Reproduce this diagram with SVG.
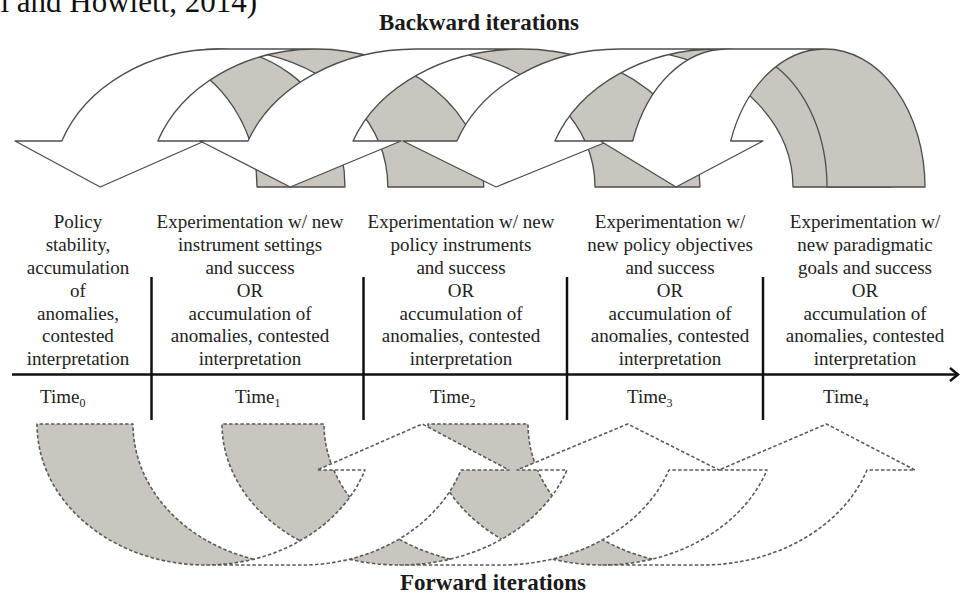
<svg xmlns="http://www.w3.org/2000/svg" width="961" height="594" viewBox="0 0 961 594">
  <defs>
    <style>
      .txt { font-family: "Liberation Serif", "Times New Roman", serif; font-size: 19px; fill: #222; text-anchor: middle; }
      .head { font-family: "Liberation Serif", "Times New Roman", serif; font-size: 23px; font-weight: bold; fill: #1a1a1a; text-anchor: middle; }
      .cite { font-family: "Liberation Serif", "Times New Roman", serif; font-size: 31px; fill: #111; text-anchor: end; }
      .sub { font-size: 12px; }
      .front { fill: #ffffff; stroke: none; }
      .back { fill: #c9c6c0; stroke: none; }
      .edge { fill: none; stroke: #4d4d4d; stroke-width: 1.3; stroke-linejoin: round; }
      .fwd .edge { stroke: #5a5a5a; stroke-width: 1.6; stroke-dasharray: 3.5 2.2; }
      .axis { stroke: #111; stroke-width: 2.5; fill: none; }
    </style>
  </defs>

  <rect width="961" height="594" fill="#ffffff"/>

  <!-- citation line running off the top edge of the page crop -->
  <text class="cite" x="257" y="12">l and Howlett, 2014)</text>

  <text class="head" x="479" y="30">Backward iterations</text>

  <g id="connectors">
    <!-- backward iterations: curved down arrows, tail on the right, head on the left -->
    <g id="backward">
      <g id="back-t1">
        <path class="back" d="M173,57.41 A128,138 0 0 1 257,187 L345,187 A128,138 0 0 0 173,57.41 Z"/>
        <path class="edge" d="M173,57.41 A128,138 0 0 1 257,187 L345,187 A128,138 0 0 0 173,57.41 Z"/>
      </g>
      <g id="back-t2-t0">
        <path class="front" d="M100.2,187 L15,141 L61.8,141 A167.8,138 0 0 1 220,49 L316,49 A167.8,138 0 0 0 157.8,141 L204.6,141 Z"/>
        <path class="back" d="M268,54.77 A167.8,138 0 0 1 387.8,187 L483.8,187 A167.8,138 0 0 0 268,54.77 Z"/>
        <path class="edge" d="M268,54.77 A167.8,138 0 0 1 387.8,187 L483.8,187 A167.8,138 0 0 0 316,49 L220,49 A167.8,138 0 0 0 61.8,141 L15,141 L100.2,187 L204.6,141 L157.8,141 A167.8,138 0 0 1 316,49"/>
      </g>
      <g id="back-t3-t1">
        <path class="front" d="M290.3,187 L200,141 L248.02,141 A178.6,138 0 0 1 416.4,49 L521.4,49 A178.6,138 0 0 0 353.02,141 L401,141 Z"/>
        <path class="back" d="M468.9,55.1 A178.6,138 0 0 1 595,187 L700,187 A178.6,138 0 0 0 468.9,55.1 Z"/>
        <path class="edge" d="M468.9,55.1 A178.6,138 0 0 1 595,187 L700,187 A178.6,138 0 0 0 521.4,49 L416.4,49 A178.6,138 0 0 0 248.02,141 L200,141 L290.3,187 L401,141 L353.02,141 A178.6,138 0 0 1 521.4,49"/>
      </g>
      <g id="back-t4-t2">
        <path class="front" d="M496,187 L402.9,141 L456.9,141 A173,138 0 0 1 620,49 L718,49 A173,138 0 0 0 554.9,141 L608.9,141 Z"/>
        <path class="back" d="M669,54.65 A173,138 0 0 1 793,187 L891,187 A173,138 0 0 0 669,54.65 Z"/>
        <path class="edge" d="M669,54.65 A173,138 0 0 1 793,187 L891,187 A173,138 0 0 0 718,49 L620,49 A173,138 0 0 0 456.9,141 L402.9,141 L496,187 L608.9,141 L554.9,141 A173,138 0 0 1 718,49"/>
      </g>
      <g id="back-t4-t3">
        <path class="front" d="M676,187 L600.4,141 L632.72,141 A100,138 0 0 1 727,49 L825,49 A100,138 0 0 0 730.72,141 L763,141 Z"/>
        <path class="back" d="M776,66.7 A100,138 0 0 1 827,187 L925,187 A100,138 0 0 0 776,66.7 Z"/>
        <path class="edge" d="M776,66.7 A100,138 0 0 1 827,187 L925,187 A100,138 0 0 0 825,49 L727,49 A100,138 0 0 0 632.72,141 L600.4,141 L676,187 L763,141 L730.72,141 A100,138 0 0 1 825,49"/>
      </g>
    </g>

    <!-- forward iterations: curved up arrows with dashed outlines -->
    <g id="forward" class="fwd">
      <g id="fwd-t2-t4">
        <path class="front" d="M826.5,424 L915,470 L867.01,470 A174.27,141 0 0 1 702.27,565 L602.27,565 A174.27,141 0 0 0 767.01,470 L719,470 Z"/>
        <path class="back" d="M652.27,559.07 A174.27,141 0 0 1 528,424 L428,424 A174.27,141 0 0 0 652.27,559.07 Z"/>
        <path class="edge" d="M652.27,559.07 A174.27,141 0 0 1 528,424 L428,424 A174.27,141 0 0 0 602.27,565 L702.27,565 A174.27,141 0 0 0 867.01,470 L915,470 L826.5,424 L719,470 L767.01,470 A174.27,141 0 0 1 602.27,565"/>
      </g>
      <g id="fwd-t1-t3">
        <path class="front" d="M627.7,424 L719,470 L669,470 A177.35,141 0 0 1 501.35,565 L399.35,565 A177.35,141 0 0 0 567,470 L517,470 Z"/>
        <path class="back" d="M450.35,559.04 A177.35,141 0 0 1 324,424 L222,424 A177.35,141 0 0 0 450.35,559.04 Z"/>
        <path class="edge" d="M450.35,559.04 A177.35,141 0 0 1 324,424 L222,424 A177.35,141 0 0 0 399.35,565 L501.35,565 A177.35,141 0 0 0 669,470 L719,470 L627.7,424 L517,470 L567,470 A177.35,141 0 0 1 399.35,565"/>
      </g>
      <g id="fwd-t0-t2">
        <path class="front" d="M422.3,424 L509,470 L461.03,470 A168.63,141 0 0 1 301.63,565 L205.63,565 A168.63,141 0 0 0 365.03,470 L317,470 Z"/>
        <path class="back" d="M253.63,559.17 A168.63,141 0 0 1 133,424 L37,424 A168.63,141 0 0 0 253.63,559.17 Z"/>
        <path class="edge" d="M253.63,559.17 A168.63,141 0 0 1 133,424 L37,424 A168.63,141 0 0 0 205.63,565 L301.63,565 A168.63,141 0 0 0 461.03,470 L509,470 L422.3,424 L317,470 L365.03,470 A168.63,141 0 0 1 205.63,565"/>
      </g>
    </g>
  </g>

  <!-- time axis with stage dividers -->
  <g id="timeline">
    <line class="axis" x1="12" y1="374.5" x2="957" y2="374.5"/>
    <polyline class="axis" points="950,368 958,374.5 950,381"/>
    <line class="axis" x1="151.5" y1="277" x2="151.5" y2="420"/>
    <line class="axis" x1="363.5" y1="277" x2="363.5" y2="420"/>
    <line class="axis" x1="567" y1="277" x2="567" y2="420"/>
    <line class="axis" x1="763" y1="277" x2="763" y2="420"/>
  </g>

  <g id="stage-0">
    <text class="txt" x="78" y="228">Policy</text>
    <text class="txt" x="78" y="251">stability,</text>
    <text class="txt" x="78" y="274">accumulation</text>
    <text class="txt" x="78" y="296.5">of</text>
    <text class="txt" x="78" y="319.5">anomalies,</text>
    <text class="txt" x="78" y="342">contested</text>
    <text class="txt" x="78" y="365">interpretation</text>
    <text class="txt" x="40" y="403" style="text-anchor:start">Time<tspan class="sub" dy="4">0</tspan></text>
  </g>

  <g id="stage-1">
    <text class="txt" x="250" y="228">Experimentation w/ new</text>
    <text class="txt" x="250" y="251">instrument settings</text>
    <text class="txt" x="250" y="274">and success</text>
    <text class="txt" x="250" y="296.5">OR</text>
    <text class="txt" x="250" y="319.5">accumulation of</text>
    <text class="txt" x="250" y="342">anomalies, contested</text>
    <text class="txt" x="250" y="365">interpretation</text>
    <text class="txt" x="235" y="403" style="text-anchor:start">Time<tspan class="sub" dy="4">1</tspan></text>
  </g>

  <g id="stage-2">
    <text class="txt" x="461" y="228">Experimentation w/ new</text>
    <text class="txt" x="461" y="251">policy instruments</text>
    <text class="txt" x="461" y="274">and success</text>
    <text class="txt" x="461" y="296.5">OR</text>
    <text class="txt" x="461" y="319.5">accumulation of</text>
    <text class="txt" x="461" y="342">anomalies, contested</text>
    <text class="txt" x="461" y="365">interpretation</text>
    <text class="txt" x="430" y="403" style="text-anchor:start">Time<tspan class="sub" dy="4">2</tspan></text>
  </g>

  <g id="stage-3">
    <text class="txt" x="670" y="228">Experimentation w/</text>
    <text class="txt" x="670" y="251">new policy objectives</text>
    <text class="txt" x="670" y="274">and success</text>
    <text class="txt" x="670" y="296.5">OR</text>
    <text class="txt" x="670" y="319.5">accumulation of</text>
    <text class="txt" x="670" y="342">anomalies, contested</text>
    <text class="txt" x="670" y="365">interpretation</text>
    <text class="txt" x="627" y="403" style="text-anchor:start">Time<tspan class="sub" dy="4">3</tspan></text>
  </g>

  <g id="stage-4">
    <text class="txt" x="865" y="228">Experimentation w/</text>
    <text class="txt" x="865" y="251">new paradigmatic</text>
    <text class="txt" x="865" y="274">goals and success</text>
    <text class="txt" x="865" y="296.5">OR</text>
    <text class="txt" x="865" y="319.5">accumulation of</text>
    <text class="txt" x="865" y="342">anomalies, contested</text>
    <text class="txt" x="865" y="365">interpretation</text>
    <text class="txt" x="823" y="403" style="text-anchor:start">Time<tspan class="sub" dy="4">4</tspan></text>
  </g>

  <text class="head" x="493" y="590">Forward iterations</text>
</svg>
